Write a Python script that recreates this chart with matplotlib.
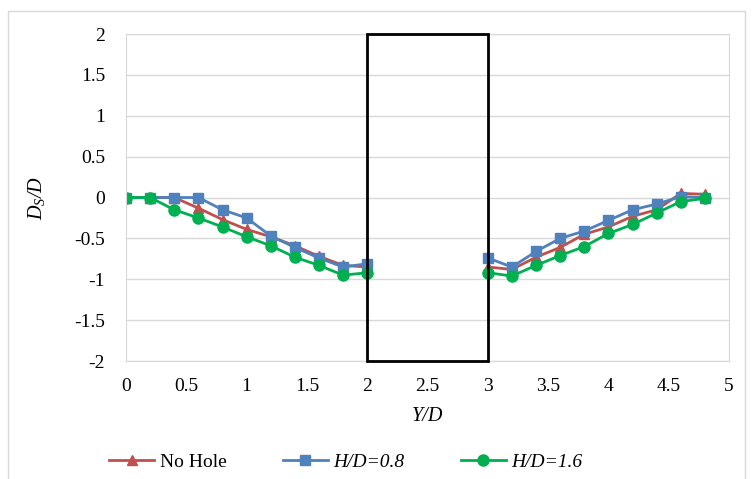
import numpy as np
import matplotlib
matplotlib.use("Agg")
import matplotlib.pyplot as plt
from matplotlib.patches import Rectangle

plt.rcParams['font.family'] = ['Liberation Serif', 'DejaVu Serif']
plt.rcParams['mathtext.fontset'] = 'custom'
plt.rcParams['mathtext.it'] = 'Liberation Serif:italic'
plt.rcParams['mathtext.rm'] = 'Liberation Serif'

# positions across the channel, either side of the pier (Y/D)
y_left = [0, 0.2, 0.4, 0.6, 0.8, 1.0, 1.2, 1.4, 1.6, 1.8, 2.0]
y_right = [3.0, 3.2, 3.4, 3.6, 3.8, 4.0, 4.2, 4.4, 4.6, 4.8]

# scour depth Ds/D
no_hole_left = [0, 0, 0, -0.13, -0.27, -0.39, -0.48, -0.59, -0.72, -0.83, -0.85]
no_hole_right = [-0.85, -0.88, -0.73, -0.61, -0.45, -0.36, -0.23, -0.15, 0.05, 0.04]

hd08_left = [0, 0, 0, 0, -0.15, -0.25, -0.47, -0.61, -0.74, -0.85, -0.81]
hd08_right = [-0.74, -0.85, -0.66, -0.50, -0.41, -0.28, -0.15, -0.08, 0.01, 0]

hd16_left = [0, 0, -0.15, -0.25, -0.36, -0.48, -0.59, -0.73, -0.83, -0.95, -0.92]
hd16_right = [-0.92, -0.96, -0.83, -0.71, -0.60, -0.44, -0.33, -0.19, -0.05, -0.01]

# pier footprint
pier_x = [2, 3]
pier_y = [-2, 2]

fig = plt.figure(figsize=(7.52, 4.79), dpi=100)
ax = fig.add_axes([0.1676, 0.2463, 0.8018, 0.6827])

series = [
    (no_hole_left, no_hole_right, '#C0504D', '^', 7, 'No Hole'),
    (hd08_left, hd08_right, '#4F81BD', 's', 7, 'H/D=0.8'),
    (hd16_left, hd16_right, '#00B050', 'o', 8, 'H/D=1.6'),
]
handles = []
for left, right, col, mk, ms, lab in series:
    h, = ax.plot(y_left, left, color=col, marker=mk, markersize=ms, lw=2, label=lab)
    ax.plot(y_right, right, color=col, marker=mk, markersize=ms, lw=2)
    handles.append(h)

ax.add_patch(Rectangle((pier_x[0], pier_y[0]), pier_x[1] - pier_x[0],
                       pier_y[1] - pier_y[0], fill=False, edgecolor='black',
                       lw=2, zorder=5, clip_on=False))

ax.set_xlim(0, 5)
ax.set_ylim(-2, 2)
ax.set_xticks(np.arange(0, 5.01, 0.5))
ax.set_yticks(np.arange(-2, 2.01, 0.5))
ax.set_xticklabels(['0', '0.5', '1', '1.5', '2', '2.5', '3', '3.5', '4', '4.5', '5'])
ax.set_yticklabels(['-2', '-1.5', '-1', '-0.5', '0', '0.5', '1', '1.5', '2'])
ax.tick_params(axis='x', length=0, labelsize=14, pad=12)
ax.tick_params(axis='y', length=0, labelsize=14, pad=15)
ax.grid(axis='y', color='#D9D9D9', lw=1)
ax.set_axisbelow(True)
for s in ax.spines.values():
    s.set_color('#D9D9D9')

ax.set_xlabel('Y/D', fontsize=14.5, style='italic', labelpad=9)
ax.set_ylabel('$D_S$/D', fontsize=14.5, style='italic', labelpad=20)

leg = fig.legend(handles, [s[5] for s in series], loc='center',
                 bbox_to_anchor=(0.46, 1 - 462 / 479), ncol=3, frameon=False,
                 fontsize=14, handlelength=2.3, columnspacing=2.9,
                 handletextpad=0.3)
for t in leg.get_texts()[1:]:
    t.set_style('italic')

# light outer frame
fig.add_artist(Rectangle((8 / 752, -0.05), 737 / 752, 1 - 11 / 479 + 0.05,
                         transform=fig.transFigure, fill=False,
                         edgecolor='#D9D9D9', lw=1))

fig.savefig('out.png', dpi=100)
